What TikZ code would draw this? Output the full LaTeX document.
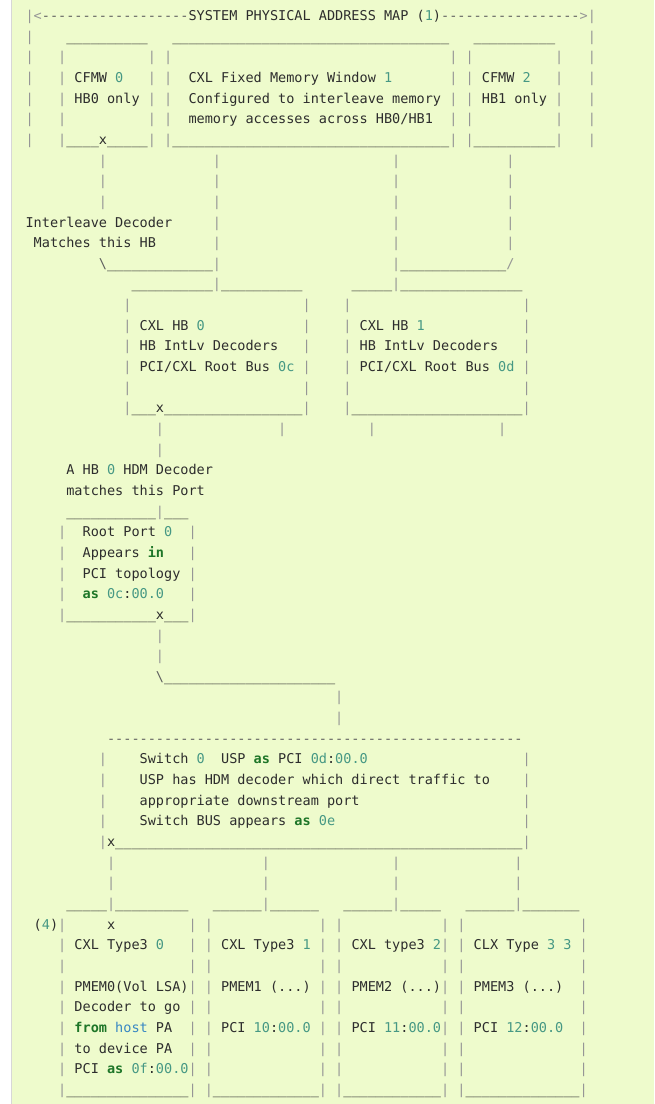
\documentclass[tikz,border=0pt]{standalone}
\usepackage{fontspec}
\setmonofont{DejaVu Sans Mono}
\usepackage{xcolor}
\definecolor{bgc}{RGB}{238,251,204}
\definecolor{bordc}{RGB}{215,215,215}
\definecolor{txtc}{RGB}{45,45,45}
\definecolor{pipec}{RGB}{150,150,150}
\definecolor{dashc}{RGB}{95,95,95}
\definecolor{numc}{RGB}{70,152,132}
\definecolor{kwc}{RGB}{30,118,40}
\definecolor{hostc}{RGB}{55,135,195}
\ExplSyntaxOn
\cs_new:Npn \myrep #1#2 { \prg_replicate:nn {#1} {#2} }
\ExplSyntaxOff
\newcommand\Bk[1]{\myrep{#1}{\phantom{0}}}
\newcommand\Us[1]{\myrep{#1}{\_}}
\newcommand\Ds[1]{{\color{dashc}\myrep{#1}{-\kern0pt}}}
\newcommand\Vb{{\color{pipec}|}}
\newcommand\Lt{{\color{pipec}\textless}}
\newcommand\Gt{{\color{pipec}\textgreater}}
\newcommand\Bs{{\color{dashc}\textbackslash}}
\newcommand\Fs{{\color{pipec}/}}
\newcommand\Nm[1]{\textcolor{numc}{#1}}
\newcommand\Kw[1]{\textcolor{kwc}{\bfseries #1}}
\newcommand\Hs[1]{\textcolor{hostc}{#1}}
\newcommand\Tw{\Bk{1}\Vb\Bk{13}\Vb\Bk{1}\Vb\Bk{12}\Vb\Bk{1}\Vb\Bk{14}\Vb}
\tikzset{ln/.style={anchor=base west, inner sep=0pt, outer sep=0pt, text=txtc,
  font=\ttfamily\fontsize{10.15pt}{12pt}\selectfont\frenchspacing}}
\newcommand\Ln[2]{\node[ln] (l#1) at (25.6,{20.5+(#1-1)*20.65}) {#2};}
\begin{document}
\begin{tikzpicture}[x=0.75pt,y=-0.75pt]
\useasboundingbox (0,0) rectangle (654,1104);
\fill[white] (0,0) rectangle (11,1104);
\fill[bgc] (11,0) rectangle (654,1104);
\draw[bordc,line width=0.75pt] (11.5,0) -- (11.5,1104);
\Ln{1}{\Vb\Lt\Ds{18}SYSTEM PHYSICAL ADDRESS MAP (\Nm{1})\Ds{17}\Gt\Vb}
\Ln{2}{\Vb\Bk{4}\Us{10}\Bk{3}\Us{34}\Bk{3}\Us{10}\Bk{4}\Vb}
\Ln{3}{\Vb\Bk{3}\Vb\Bk{10}\Vb\Bk{1}\Vb\Bk{34}\Vb\Bk{1}\Vb\Bk{10}\Vb\Bk{3}\Vb}
\Ln{4}{\Vb\Bk{3}\Vb\Bk{1}CFMW \Nm{0}\Bk{3}\Vb\Bk{1}\Vb\Bk{2}CXL Fixed Memory Window \Nm{1}\Bk{7}\Vb\Bk{1}\Vb\Bk{1}CFMW \Nm{2}\Bk{3}\Vb\Bk{3}\Vb}
\Ln{5}{\Vb\Bk{3}\Vb\Bk{1}HB0 only\Bk{1}\Vb\Bk{1}\Vb\Bk{2}Configured to interleave memory\Bk{1}\Vb\Bk{1}\Vb\Bk{1}HB1 only\Bk{1}\Vb\Bk{3}\Vb}
\Ln{6}{\Vb\Bk{3}\Vb\Bk{10}\Vb\Bk{1}\Vb\Bk{2}memory accesses across HB0/HB1\Bk{2}\Vb\Bk{1}\Vb\Bk{10}\Vb\Bk{3}\Vb}
\Ln{7}{\Vb\Bk{3}\Vb\Us{4}x\Us{5}\Vb\Bk{1}\Vb\Us{34}\Vb\Bk{1}\Vb\Us{10}\Vb\Bk{3}\Vb}
\Ln{8}{\Bk{9}\Vb\Bk{13}\Vb\Bk{21}\Vb\Bk{13}\Vb}
\Ln{9}{\Bk{9}\Vb\Bk{13}\Vb\Bk{21}\Vb\Bk{13}\Vb}
\Ln{10}{\Bk{9}\Vb\Bk{13}\Vb\Bk{21}\Vb\Bk{13}\Vb}
\Ln{11}{Interleave Decoder\Bk{5}\Vb\Bk{21}\Vb\Bk{13}\Vb}
\Ln{12}{\Bk{1}Matches this HB\Bk{7}\Vb\Bk{21}\Vb\Bk{13}\Vb}
\Ln{13}{\Bk{9}\Bs\Us{13}\Vb\Bk{21}\Vb\Us{13}\Fs}
\Ln{14}{\Bk{13}\Us{10}\Vb\Us{10}\Bk{6}\Us{5}\Vb\Us{15}}
\Ln{15}{\Bk{12}\Vb\Bk{21}\Vb\Bk{4}\Vb\Bk{21}\Vb}
\Ln{16}{\Bk{12}\Vb\Bk{1}CXL HB \Nm{0}\Bk{12}\Vb\Bk{4}\Vb\Bk{1}CXL HB \Nm{1}\Bk{12}\Vb}
\Ln{17}{\Bk{12}\Vb\Bk{1}HB IntLv Decoders\Bk{3}\Vb\Bk{4}\Vb\Bk{1}HB IntLv Decoders\Bk{3}\Vb}
\Ln{18}{\Bk{12}\Vb\Bk{1}PCI/CXL Root Bus \Nm{0c}\Bk{1}\Vb\Bk{4}\Vb\Bk{1}PCI/CXL Root Bus \Nm{0d}\Bk{1}\Vb}
\Ln{19}{\Bk{12}\Vb\Bk{21}\Vb\Bk{4}\Vb\Bk{21}\Vb}
\Ln{20}{\Bk{12}\Vb\Us{3}x\Us{17}\Vb\Bk{4}\Vb\Us{21}\Vb}
\Ln{21}{\Bk{16}\Vb\Bk{14}\Vb\Bk{10}\Vb\Bk{15}\Vb}
\Ln{22}{\Bk{16}\Vb}
\Ln{23}{\Bk{5}A HB \Nm{0} HDM Decoder}
\Ln{24}{\Bk{5}matches this Port}
\Ln{25}{\Bk{5}\Us{11}\Vb\Us{3}}
\Ln{26}{\Bk{4}\Vb\Bk{2}Root Port \Nm{0}\Bk{2}\Vb}
\Ln{27}{\Bk{4}\Vb\Bk{2}Appears \Kw{in}\Bk{3}\Vb}
\Ln{28}{\Bk{4}\Vb\Bk{2}PCI topology\Bk{1}\Vb}
\Ln{29}{\Bk{4}\Vb\Bk{2}\Kw{as} \Nm{0c}:\Nm{00.0}\Bk{3}\Vb}
\Ln{30}{\Bk{4}\Vb\Us{11}x\Us{3}\Vb}
\Ln{31}{\Bk{16}\Vb}
\Ln{32}{\Bk{16}\Vb}
\Ln{33}{\Bk{16}\Bs\Us{21}}
\Ln{34}{\Bk{38}\Vb}
\Ln{35}{\Bk{38}\Vb}
\Ln{36}{\Bk{10}\Ds{51}}
\Ln{37}{\Bk{9}\Vb\Bk{4}Switch \Nm{0}\Bk{2}USP \Kw{as} PCI \Nm{0d}:\Nm{00.0}\Bk{19}\Vb}
\Ln{38}{\Bk{9}\Vb\Bk{4}USP has HDM decoder which direct traffic to\Bk{4}\Vb}
\Ln{39}{\Bk{9}\Vb\Bk{4}appropriate downstream port\Bk{20}\Vb}
\Ln{40}{\Bk{9}\Vb\Bk{4}Switch BUS appears \Kw{as} \Nm{0e}\Bk{23}\Vb}
\Ln{41}{\Bk{9}\Vb{}x\Us{50}\Vb}
\Ln{42}{\Bk{10}\Vb\Bk{18}\Vb\Bk{15}\Vb\Bk{14}\Vb}
\Ln{43}{\Bk{10}\Vb\Bk{18}\Vb\Bk{15}\Vb\Bk{14}\Vb}
\Ln{44}{\Bk{5}\Us{5}\Vb\Us{9}\Bk{3}\Us{6}\Vb\Us{6}\Bk{3}\Us{6}\Vb\Us{5}\Bk{3}\Us{6}\Vb\Us{7}}
\Ln{45}{\Bk{1}(\Nm{4})\Vb\Bk{5}x\Bk{9}\Vb\Tw}
\Ln{46}{\Bk{4}\Vb\Bk{1}CXL Type3 \Nm{0}\Bk{3}\Vb\Bk{1}\Vb\Bk{1}CXL Type3 \Nm{1}\Bk{1}\Vb\Bk{1}\Vb\Bk{1}CXL type3 \Nm{2}\Vb\Bk{1}\Vb\Bk{1}CLX Type \Nm{3} \Nm{3}\Bk{1}\Vb}
\Ln{47}{\Bk{4}\Vb\Bk{15}\Vb\Tw}
\Ln{48}{\Bk{4}\Vb\Bk{1}PMEM0(Vol LSA)\Vb\Bk{1}\Vb\Bk{1}PMEM1 (...)\Bk{1}\Vb\Bk{1}\Vb\Bk{1}PMEM2 (...)\Vb\Bk{1}\Vb\Bk{1}PMEM3 (...)\Bk{2}\Vb}
\Ln{49}{\Bk{4}\Vb\Bk{1}Decoder to go\Bk{1}\Vb\Tw}
\Ln{50}{\Bk{4}\Vb\Bk{1}\Kw{from} \Hs{host} PA\Bk{2}\Vb\Bk{1}\Vb\Bk{1}PCI \Nm{10}:\Nm{00.0}\Bk{1}\Vb\Bk{1}\Vb\Bk{1}PCI \Nm{11}:\Nm{00.0}\Vb\Bk{1}\Vb\Bk{1}PCI \Nm{12}:\Nm{00.0}\Bk{2}\Vb}
\Ln{51}{\Bk{4}\Vb\Bk{1}to device PA\Bk{2}\Vb\Tw}
\Ln{52}{\Bk{4}\Vb\Bk{1}PCI \Kw{as} \Nm{0f}:\Nm{00.0}\Vb\Tw}
\Ln{53}{\Bk{4}\Vb\Us{15}\Vb\Bk{1}\Vb\Us{13}\Vb\Bk{1}\Vb\Us{12}\Vb\Bk{1}\Vb\Us{14}\Vb}
\end{tikzpicture}
\end{document}
